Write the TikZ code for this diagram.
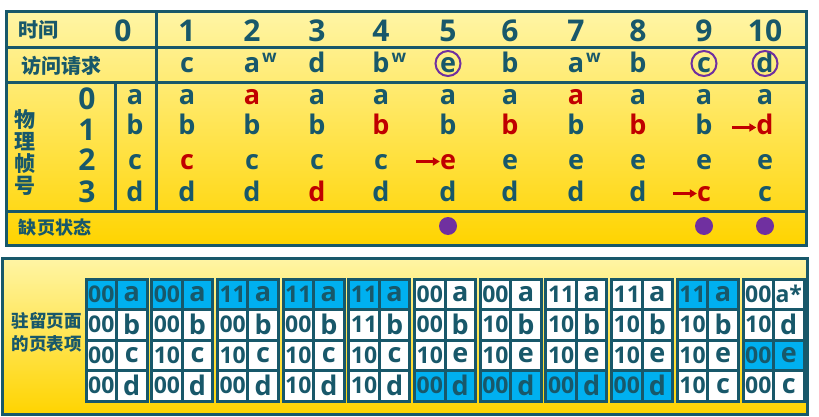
\documentclass[tikz,border=0pt]{standalone}
\usepackage{fontspec}
\setmainfont{Open Sans}
\newfontfamily\cjk{Noto Sans CJK SC}
\usetikzlibrary{arrows.meta}

\definecolor{framecol}{HTML}{18586A}
\definecolor{hlred}{HTML}{C00000}
\definecolor{ringcol}{HTML}{7030A0}
\definecolor{cellblue}{HTML}{00B0F0}
\definecolor{paleyellow}{HTML}{FFF5A5}
\definecolor{goldyellow}{HTML}{FFD400}

\newcommand\wmark{\rlap{\hspace{2pt}\raisebox{10pt}{\fontsize{17}{17}\selectfont w}}}

\tikzset{
  panel/.style={draw=framecol, line width=3pt, top color=paleyellow, bottom color=goldyellow},
  rule/.style={draw=framecol, line width=3pt},
  hdr/.style={font=\cjk\bfseries\fontsize{20}{20}\selectfont, text=framecol, inner sep=0pt},
  num/.style={font=\bfseries\fontsize{30}{30}\selectfont, text=framecol, inner sep=0pt, anchor=base},
  letter/.style={font=\bfseries\fontsize{27}{27}\selectfont, text=framecol, inner sep=0pt,
    anchor=base, text height=19pt, text depth=0pt},
  keep/.style={},
  hit/.style={text=hlred},
  ring/.style={circle, draw=ringcol, line width=2pt, minimum size=25pt, inner sep=0pt},
  fault/.style={circle, fill=ringcol, minimum size=18pt, inner sep=0pt},
  inarrow/.style={draw=hlred, line width=3pt, -{Triangle[length=7pt,width=8pt]}},
  cell/.style={draw=framecol, line width=3pt, minimum width=30.5pt, minimum height=30.5pt,
    inner sep=0pt, outer sep=0pt, text=framecol},
  tag/.style={cell, font=\bfseries\fontsize{23}{23}\selectfont},
  val/.style={cell, font=\bfseries\fontsize{27}{27}\selectfont},
}

\begin{document}
\begin{tikzpicture}[x=1pt, y=-1pt]
\useasboundingbox (0,0) rectangle (819,417);

% upper table
\path[panel] (6,12) rectangle (806,245);
\draw[rule] (6,48) -- (806,48) (6,83) -- (806,83) (6,211) -- (806,211);
\draw[rule] (156,12) -- (156,211) (115,83) -- (115,211);

\node[hdr] (time) at (38,30) {时间};
\node[hdr] (req) at (61,66) {访问请求};
\node[hdr, align=center, font=\cjk\bfseries\fontsize{21}{22}\selectfont] (frm) at (25,152) {物\\理\\帧\\号};
\node[hdr, font=\cjk\bfseries\fontsize{18}{18}\selectfont] (pf) at (55,228) {缺页状态};

\foreach \x [count=\i from 0] in {123,187,252,317,381,448,510,576,638,704,765}
  \node[num] (t\i) at (\x,42) {\i};

\foreach \i/\s in {1/c,2/a\wmark,3/d,4/b\wmark,5/e,6/b,7/a\wmark,8/b,9/c,10/d}
  \node[letter] (r\i) at (t\i |- 0,73) {\s};
\foreach \i in {5,9,10}
  \node[ring] at (r\i) {};

% frame numbers and start contents
\foreach \y [count=\j from 0] in {110,141,170,202}
  \node[num] (n\j) at (87,\y) {\j};
\foreach \v/\y [count=\j from 0] in {a/105,b/135,c/169,d/201}
  \node[letter] (f0-\j) at (135,\y) {\v};

\foreach \i/\col in {
    1/{a/keep,b/keep,c/hit,d/keep},
    2/{a/hit,b/keep,c/keep,d/keep},
    3/{a/keep,b/keep,c/keep,d/hit},
    4/{a/keep,b/hit,c/keep,d/keep},
    5/{a/keep,b/keep,e/hit,d/keep},
    6/{a/keep,b/hit,e/keep,d/keep},
    7/{a/hit,b/keep,e/keep,d/keep},
    8/{a/keep,b/hit,e/keep,d/keep},
    9/{a/keep,b/keep,e/keep,c/hit},
    10/{a/keep,d/hit,e/keep,c/keep}}
  \foreach \v/\s [count=\j from 0] in \col
    \node[letter,\s] (f\i-\j) at (t\i |- f0-\j.base) {\v};

\foreach \n in {f5-2,f9-3,f10-1}
  \draw[inarrow] ([xshift=-24pt,yshift=-2pt]\n.west) -- ([yshift=-2pt]\n.west);

\foreach \i in {5,9,10}
  \node[fault] (s\i) at (t\i |- 0,226) {};

% lower table
\path[panel] (2,258) rectangle (807,414);
\node[hdr, align=center, font=\cjk\bfseries\fontsize{17.5}{23}\selectfont] (res) at (47,332) {驻留页面\\的页表项};

\foreach \k/\rows in {
    0/{00/a/cellblue,00/b/white,00/c/white,00/d/white},
    1/{00/a/cellblue,00/b/white,10/c/white,00/d/white},
    2/{11/a/cellblue,00/b/white,10/c/white,00/d/white},
    3/{11/a/cellblue,00/b/white,10/c/white,10/d/white},
    4/{11/a/cellblue,11/b/white,10/c/white,10/d/white},
    5/{00/a/white,00/b/white,10/e/white,00/d/cellblue},
    6/{00/a/white,10/b/white,10/e/white,00/d/cellblue},
    7/{11/a/white,10/b/white,10/e/white,00/d/cellblue},
    8/{11/a/white,10/b/white,10/e/white,00/d/cellblue},
    9/{11/a/cellblue,10/b/white,10/e/white,10/c/white},
    10/{00/{\fontsize{23}{23}\selectfont a*}/white,10/d/white,00/e/cellblue,00/c/white}}
  \foreach \t/\v/\c [count=\j from 0] in \rows {
    \node[tag, fill=\c] (p\k-\j) at (101.25+65.7*\k, 294.25+30.5*\j) {\t};
    \node[val, fill=\c] (q\k-\j) at (131.75+65.7*\k, 294.25+30.5*\j) {\v};
  }
\end{tikzpicture}
\end{document}
